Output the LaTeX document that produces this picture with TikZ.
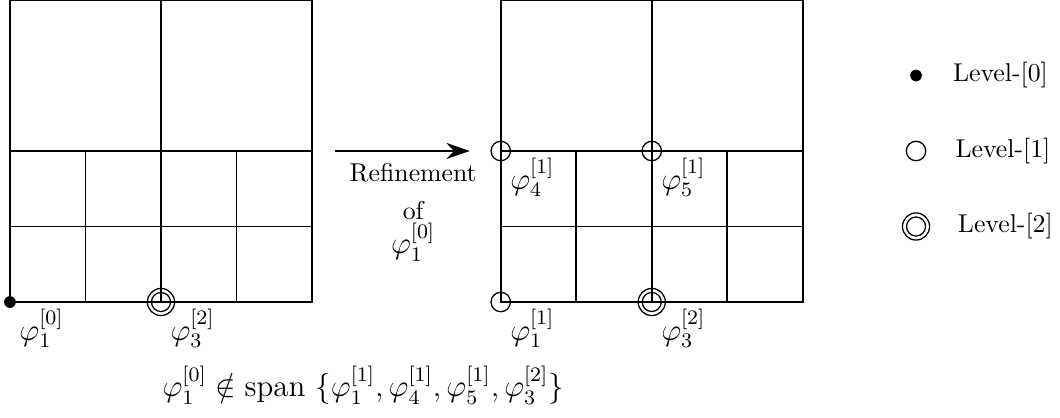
\documentclass[tikz,border=0pt]{standalone}
\usepackage{amsmath,amssymb}
\usepackage{tikz}
\usetikzlibrary{positioning,arrows.meta}
\tikzset{
  gridln/.style={line width=0.6pt},
  lvlzero/.style={circle, fill=black, inner sep=0pt, minimum size=1.6mm},
  lvlone/.style={circle, draw, line width=0.5pt, inner sep=0pt, minimum size=2.65mm},
  lvltwo/.style={circle, draw, line width=0.5pt, inner sep=0pt, minimum size=3.7mm,
    path picture={\draw[line width=0.5pt] (path picture bounding box.center) circle (1.3mm);}},
  funlbl/.style={below right, font=\large, inner xsep=3.5pt, inner ysep=2.5pt},
  legtext/.style={inner sep=2pt},
  refarr/.style={-{Stealth[length=3.2mm,width=2.2mm]}, line width=0.6pt}
}
\begin{document}
\begin{tikzpicture}[x=1.03cm, y=1.03cm, node distance=3.2mm]
\useasboundingbox (-0.132,-1.536) rectangle (13.907,4);
\foreach \sx in {0,6.5}{
  \begin{scope}[shift={(\sx,0)}]
    \draw[gridln] (0,0) rectangle (4,4);
    \draw[gridln] (2,0) -- (2,4);
    \foreach \yy in {1,2} \draw[gridln] (0,\yy) -- (4,\yy);
    \foreach \xx in {1,3} \draw[gridln] (\xx,0) -- (\xx,2);
  \end{scope}
}
\coordinate (L1) at (0,0);
\coordinate (L3) at (2,0);
\coordinate (R1) at (6.5,0);
\coordinate (R3) at (8.5,0);
\coordinate (R4) at (6.5,2);
\coordinate (R5) at (8.5,2);
\node[lvlzero] (mL1) at (L1) {};
\node[lvltwo] (mL3) at (L3) {};
\node[lvlone] (mR1) at (R1) {};
\node[lvltwo] (mR3) at (R3) {};
\node[lvlone] (mR4) at (R4) {};
\node[lvlone] (mR5) at (R5) {};
\node[funlbl] (tL1) at (L1) {$\varphi_1^{[0]}$};
\node[funlbl] (tL3) at (L3) {$\varphi_3^{[2]}$};
\node[funlbl] (tR1) at (R1) {$\varphi_1^{[1]}$};
\node[funlbl] (tR3) at (R3) {$\varphi_3^{[2]}$};
\node[funlbl] (tR4) at (R4) {$\varphi_4^{[1]}$};
\node[funlbl] (tR5) at (R5) {$\varphi_5^{[1]}$};
\coordinate (arrS) at (4.3,2);
\coordinate (arrE) at (6.09,2);
\draw[refarr] (arrS) -- (arrE) node[midway, below=1pt, xshift=1.5mm, align=center] (reflbl)
  {Refinement\\[3pt] of\\[0pt] {\large $\varphi_1^{[0]}$}};
\node[lvlzero] (k0) at (12,3) {};
\node[legtext, right=3.4mm of k0] (k0t) {Level-[0]};
\node[lvlone] (k1) at (12,2) {};
\node[legtext, right=of k1] (k1t) {Level-[1]};
\node[lvltwo] (k2) at (12,1) {};
\node[legtext, right=3mm of k2] (k2t) {Level-[2]};
\node[font=\large] (span) at (4.68,-1.10)
  {$\varphi_1^{[0]} \notin \text{span }\{\varphi_1^{[1]}, \varphi_4^{[1]}, \varphi_5^{[1]}, \varphi_3^{[2]}\}$};
\end{tikzpicture}
\end{document}
